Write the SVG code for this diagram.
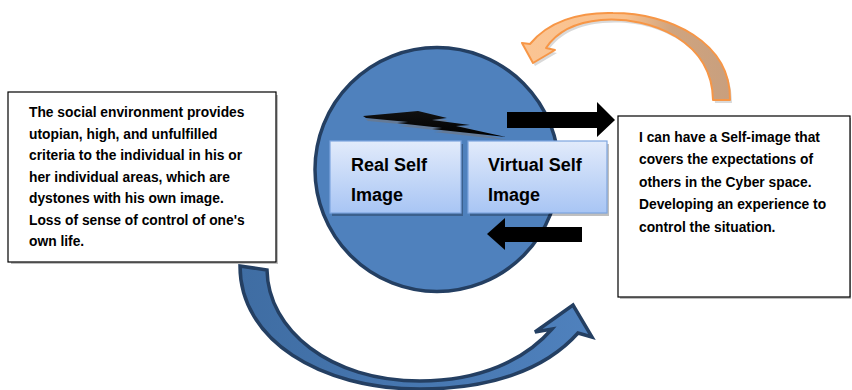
<svg xmlns="http://www.w3.org/2000/svg" width="852" height="390" viewBox="0 0 852 390">
<defs>
<style>
.txt{font-family:"Liberation Sans",Arial,sans-serif;font-weight:bold;fill:#000;}
.body{font-size:13.8px;}
.big{font-size:18px;}
.box{fill:#fff;stroke:#000;stroke-width:1.2;}
.inner{fill:url(#gInner);stroke:#7ea6e0;stroke-width:1.2;}
.shadow{fill:#000;opacity:0.25;}
.blk{fill:#000;}
</style>
<linearGradient id="gInner" x1="0" y1="0" x2="0" y2="1">
<stop offset="0" stop-color="#e2ebfb"/>
<stop offset="1" stop-color="#a8c5f4"/>
</linearGradient>
<linearGradient id="gOrange" x1="0" y1="0" x2="1" y2="0">
<stop offset="0" stop-color="#fbc594"/>
<stop offset="0.5" stop-color="#f9c08c"/>
<stop offset="0.72" stop-color="#cfa47f"/>
<stop offset="1" stop-color="#c89f7e"/>
</linearGradient>
<linearGradient id="gBlue" x1="0" y1="0" x2="1" y2="0">
<stop offset="0" stop-color="#3f6da3"/>
<stop offset="1" stop-color="#4f81bd"/>
</linearGradient>
<linearGradient id="gBolt" x1="0" y1="0" x2="0" y2="1">
<stop offset="0" stop-color="#111"/>
<stop offset="1" stop-color="#000"/>
</linearGradient>
</defs>

<g id="circle">
<circle cx="437" cy="169.5" r="122" fill="#4f81bd" stroke="#243f62" stroke-width="3.5"/>
</g>

<g id="bolt">
<polygon points="365,119 420,114 449,121 434,123 472,128 458,129 507,140 434,132 444,131 399,126 410,125 368,121" fill="#6d7887" opacity="0.7"/>
<polygon points="363,116 418,111 447,118 432,120 470,125 456,126 506,137 432,129 442,128 397,123 408,122 366,118" fill="url(#gBolt)"/>
</g>

<g id="real-self">
<rect x="332" y="144" width="131" height="72" class="shadow"/>
<rect x="330" y="141" width="131" height="72" class="inner"/>
<text class="txt big" x="351" y="171">Real Self</text>
<text class="txt big" x="351" y="201">Image</text>
</g>

<g id="virtual-self">
<rect x="470" y="144" width="139" height="72" class="shadow"/>
<rect x="468" y="141" width="139" height="72" class="inner"/>
<text class="txt big" x="488" y="171">Virtual Self</text>
<text class="txt big" x="488" y="201">Image</text>
</g>

<g id="left-box">
<rect x="9" y="93" width="267" height="169" class="shadow" transform="translate(2,2)"/>
<rect x="8" y="92" width="268" height="170" class="box"/>
<text class="txt body" x="29" y="117">The social environment provides</text>
<text class="txt body" x="29" y="138.5">utopian, high, and unfulfilled</text>
<text class="txt body" x="29" y="160">criteria to the individual in his or</text>
<text class="txt body" x="29" y="181.5">her individual areas, which are</text>
<text class="txt body" x="29" y="203">dystones with his own image.</text>
<text class="txt body" x="29" y="224.5">Loss of sense of control of one's</text>
<text class="txt body" x="29" y="246">own life.</text>
</g>

<g id="right-box">
<rect x="620" y="118" width="231" height="181" class="shadow"/>
<rect x="618" y="116" width="232" height="181" class="box"/>
<text class="txt body" x="639" y="141.5">I can have a Self-image that</text>
<text class="txt body" x="639" y="164">covers the expectations of</text>
<text class="txt body" x="639" y="186.5">others in the Cyber space.</text>
<text class="txt body" x="639" y="209">Developing an experience to</text>
<text class="txt body" x="639" y="231.5">control the situation.</text>
</g>

<g id="connectors">
<polygon class="blk" points="507,112 597,112 597,102 615,120 597,137 597,128 507,128"/>
<polygon class="blk" points="582,227 505,227 505,218 487,234 505,250 505,242 582,242"/>
<path d="M 715,103 C 714,45 655,18 603,23 C 580,25 560,33 548,51 L 557,53 L 535,66 L 524,46 L 532,47 C 550,25 580,15 615,16 C 672,16 733,45 732,103 Z" fill="#000" opacity="0.15"/>
<path d="M 713,100 C 712,42 653,16 601,20 C 578,22 558,30 546,48 L 555,50 L 533,63 L 522,43 L 530,44 C 548,22 578,12 613,13 C 670,13 731,42 730,100 Z" fill="url(#gOrange)" stroke="#f79646" stroke-width="2" stroke-linejoin="round"/>
<path d="M 240,266 L 267,270 C 268,330 330,381 420,381 C 480,381 525,360 552,329 L 535,332 L 573,305 L 592,337 L 578,333 C 545,370 490,389 420,389 C 320,389 240,340 240,266 Z" fill="url(#gBlue)" stroke="#243f62" stroke-width="3.5" stroke-linejoin="miter"/>
</g>
</svg>
